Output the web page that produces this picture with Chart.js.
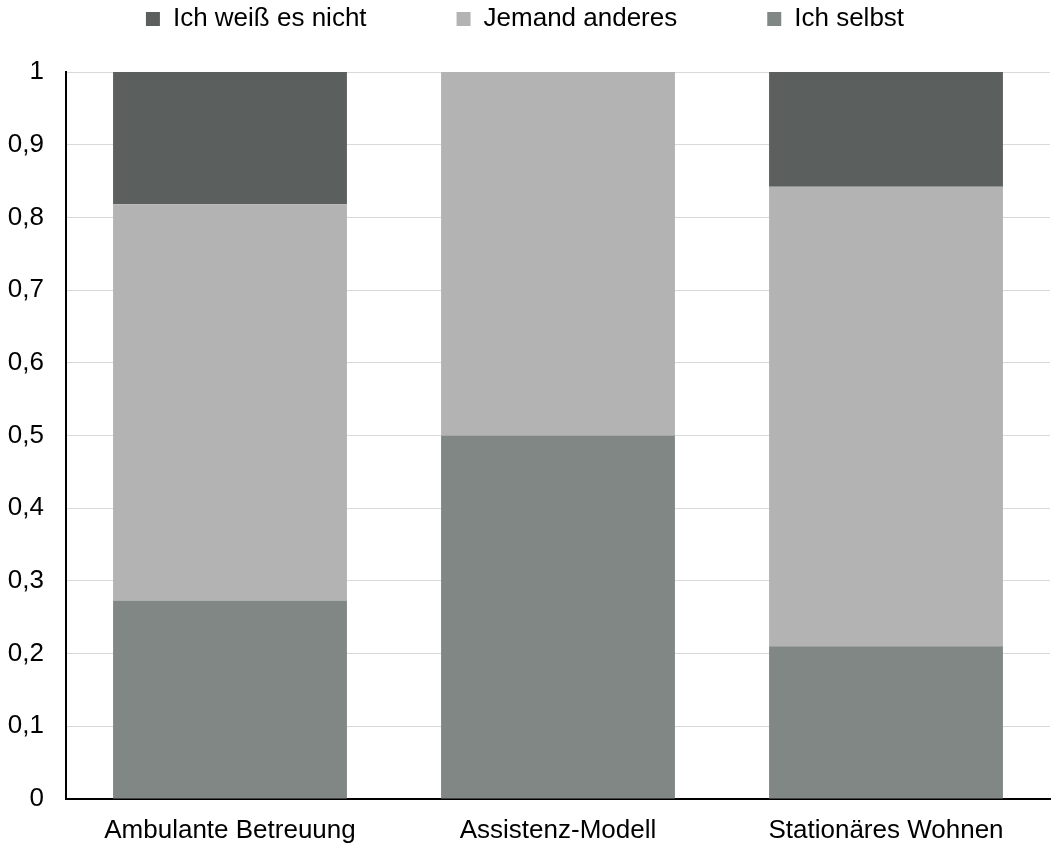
<!DOCTYPE html>
<html lang="de">
<head>
<meta charset="utf-8">
<title>Wer entscheidet?</title>
<script src="https://cdn.jsdelivr.net/npm/chart.js@4/dist/chart.umd.min.js"></script>
<style>
  html, body { margin: 0; padding: 0; background: #ffffff; }
  #wrap { position: relative; width: 1052px; height: 854px; }
</style>
</head>
<body>
<div id="wrap"><canvas id="chart"></canvas></div>
<script>
// Wohnform categories
const categories = ['Ambulante Betreuung', 'Assistenz-Modell', 'Stationäres Wohnen'];

// Shares per answer (stacked from the bottom up)
const ichSelbst = [0.273, 0.5, 0.21];
const jemandAnderes = [0.545, 0.5, 0.632];
const ichWeissNicht = [0.182, 0, 0.158];

// Labels of the value axis
const yTickLabels = ['0', '0,1', '0,2', '0,3', '0,4', '0,5', '0,6', '0,7', '0,8', '0,9', '1'];

const fontFamily = "'Liberation Sans', Arial, Helvetica, sans-serif";
Chart.defaults.font.family = fontFamily;
Chart.defaults.font.size = 26;
Chart.defaults.color = '#000000';

new Chart(document.getElementById('chart'), {
  type: 'bar',
  data: {
    labels: categories,
    datasets: [
      { label: 'Ich selbst', data: ichSelbst, backgroundColor: '#808785' },
      { label: 'Jemand anderes', data: jemandAnderes, backgroundColor: '#b3b3b3' },
      { label: 'Ich weiß es nicht', data: ichWeissNicht, backgroundColor: '#5b5f5e' }
    ]
  },
  options: {
    responsive: true,
    maintainAspectRatio: false,
    animation: false,
    datasets: {
      bar: { barPercentage: 0.713, categoryPercentage: 1, borderWidth: 0 }
    },
    layout: { padding: { top: -84, left: 0, right: 2, bottom: 0 } },
    plugins: {
      legend: {
        position: 'top',
        align: 'center',
        reverse: true,
        labels: {
          boxWidth: 14,
          boxHeight: 14,
          padding: 90,
          color: '#000000',
          font: { size: 26, family: fontFamily }
        }
      },
      // empty spacer between legend and plot
      title: {
        display: true,
        text: '',
        position: 'top',
        weight: 500,
        padding: 0,
        font: { size: 25, lineHeight: 1.2 }
      },
      tooltip: { enabled: false }
    },
    scales: {
      x: {
        stacked: true,
        grid: { display: false, drawTicks: false },
        border: { display: true, color: '#000000', width: 2 },
        ticks: { padding: 16, color: '#000000', font: { size: 26 }, maxRotation: 0 },
        afterFit: (scale) => { scale.height = 55; }
      },
      y: {
        stacked: true,
        min: 0,
        max: 1,
        grid: { color: '#d9d9d9', lineWidth: 1, drawTicks: false },
        border: { display: true, color: '#000000', width: 2 },
        ticks: {
          stepSize: 0.1,
          padding: 22,
          color: '#000000',
          font: { size: 26 },
          callback: (value, index) => yTickLabels[index]
        },
        afterFit: (scale) => { scale.width = 66; }
      }
    }
  }
});
</script>
</body>
</html>
